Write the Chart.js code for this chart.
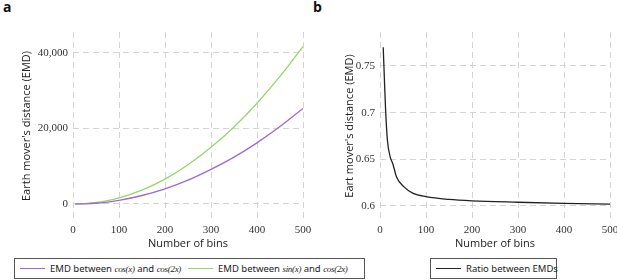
<!DOCTYPE html>
<html><head><meta charset="utf-8">
<script src="https://cdn.jsdelivr.net/npm/chart.js@4"></script>
<style>
html,body{margin:0;padding:0;background:#fff;width:617px;height:280px;overflow:hidden;position:relative;font-family:"Open Sans",sans-serif;}
.panel{position:absolute;top:0;height:250px;}
.lab{position:absolute;font-family:"Open Sans",sans-serif;font-weight:bold;font-size:14px;color:#111;}
.legend{position:absolute;top:258px;height:21px;border:1px solid #555;box-sizing:border-box;font-family:"Noto Sans",sans-serif;font-size:9.5px;color:#222;white-space:nowrap;}
.item{position:absolute;top:0;height:19px;display:flex;align-items:center;}
.sw{display:inline-block;width:25px;height:0;border-top:1.5px solid;margin-right:5px;}
.m{font-family:"Liberation Serif","DejaVu Serif",serif;font-style:italic;font-size:9px;letter-spacing:-0.3px;}
</style></head>
<body>
<div class="lab" style="left:3px;top:-3px">a</div>
<div class="lab" style="left:313px;top:-3px">b</div>
<div class="panel" style="left:0;width:320px"><canvas id="c1" width="320" height="250"></canvas></div>
<div class="panel" style="left:310px;width:317px"><canvas id="c2" width="317" height="250"></canvas></div>
<div class="legend" style="left:14px;width:351px">
  <span class="item" style="left:5px"><span class="sw" style="border-color:#9a6bd6"></span>EMD between&nbsp;<span class="m">cos(x)</span>&nbsp;and&nbsp;<span class="m">cos(2x)</span></span>
  <span class="item" style="left:173px"><span class="sw" style="border-color:#99d46a"></span>EMD between&nbsp;<span class="m">sin(x)</span>&nbsp;and&nbsp;<span class="m">cos(2x)</span></span>
</div>
<div class="legend" style="left:430px;width:127px">
  <span class="item" style="left:5px"><span class="sw" style="border-color:#222"></span>Ratio between EMDs</span>
</div>
<script>
// Panel a data
const binsA = [5, 25, 50, 75, 100, 150, 200, 250, 300, 350, 400, 450, 500];
const emdCos = [0, 40, 200, 520, 950, 2250, 4000, 6300, 9150, 12400, 16200, 20500, 25300];
const emdSin = [0, 80, 400, 900, 1650, 3700, 6600, 10400, 15000, 20400, 26700, 33800, 41700];
const ticksYA = [0, 20000, 40000];
// Panel b data
const binsB = [7, 10, 12, 16, 22, 28, 36, 51, 72, 100, 150, 200, 300, 400, 500];
const ratio = [0.770, 0.730, 0.705, 0.671, 0.653, 0.645, 0.631, 0.621, 0.6136, 0.610, 0.607, 0.6055, 0.604, 0.6028, 0.602];
const ticksYB = [0.6, 0.65, 0.7, 0.75];
const ticksX = [0, 100, 200, 300, 400, 500];
const yTitle = "Earth mover's distance (EMD)";
const yTitleB = "Eart mover's distance (EMD)";
const xTitle = "Number of bins";

const tickFont = {family:'"Liberation Serif","DejaVu Serif",serif', size:11};
const titleFont = {family:'"Open Sans",sans-serif', size:11};

function mk(id, xs, series, yMin, yMax, yTicks, fmt, ttl, yW) {
  return new Chart(document.getElementById(id), {
    type:'line',
    data:{datasets: series.map(s => ({data: xs.map((x,i)=>({x, y:s.v[i]})), borderColor:s.c, borderWidth:1.3, pointRadius:0, cubicInterpolationMode:'monotone', fill:false}))},
    options:{
      responsive:false, animation:false, events:[],
      layout:{padding:{top:32, right:yW.r, left:yW.l, bottom:0}},
      plugins:{legend:{display:false}, tooltip:{enabled:false}},
      scales:{
        x:{type:'linear', min:0, max:500,
           afterBuildTicks:s=>{s.ticks = ticksX.map(v=>({value:v}));},
           afterFit:s=>{s.height = 30;},
           grid:{color:'#d4d4d4', lineWidth:1, drawTicks:false, borderDash:[6,4]},
           border:{display:false, dash:[6,4]},
           ticks:{font:tickFont, color:'#333', padding:4, maxRotation:0},
           title:{display:true, text:xTitle, font:titleFont, color:'#222', padding:{top:-2,bottom:0}}},
        y:{type:'linear', min:yMin, max:yMax,
           afterBuildTicks:s=>{s.ticks = yTicks.map(v=>({value:v}));},
           afterFit:s=>{s.width = yW.w;},
           grid:{color:'#d4d4d4', lineWidth:1, drawTicks:false, borderDash:[6,4]},
           border:{display:false, dash:[6,4]},
           ticks:{font:tickFont, color:'#333', padding:5, callback:fmt},
           title:{display:true, text:ttl, font:titleFont, color:'#222', padding:{top:0,bottom:0}}}
      }
    }
  });
}
mk('c1', binsA, [{v:emdCos, c:'#9a6bd6'}, {v:emdSin, c:'#99d46a'}], -4240, 45560, ticksYA,
   v => v.toLocaleString('en-US'), yTitle, {l:20, w:53, r:17});
mk('c2', binsB, [{v:ratio, c:'#222'}], 0.585, 0.7864, ticksYB,
   v => String(v), yTitleB, {l:33, w:37, r:17});
</script>
</body></html>
